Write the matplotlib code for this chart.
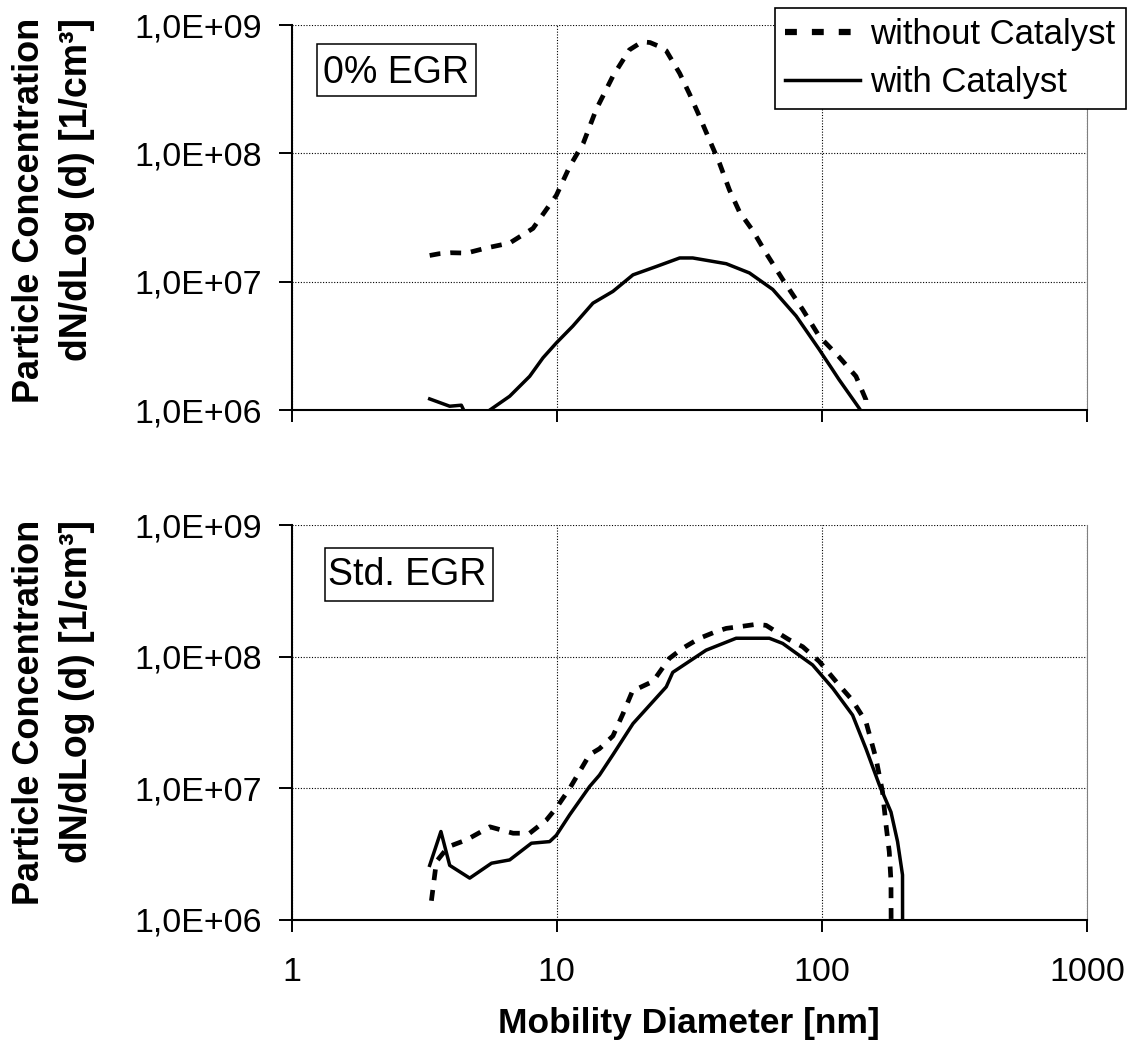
import matplotlib
matplotlib.use('Agg')
import matplotlib.pyplot as plt
from matplotlib.lines import Line2D
from matplotlib.patches import Rectangle

plt.rcParams['font.family'] = ['Liberation Sans', 'DejaVu Sans']

# ---------------- data ----------------
# Top panel: 0% EGR
top_without_x = [3.32, 3.6, 4.0, 4.57, 5.43, 6.65, 8.14, 9.97, 11.2, 12.6, 14.1, 16.3, 18.8,
                 21.0, 22.5, 24.4, 25.9, 29.1, 31.7, 34.6, 37.7, 41.1, 44.8, 48.9, 54.9,
                 61.6, 71.2, 84.7, 97.8, 116, 134.5, 146.7, 147.0]
top_without_y = [1.6e7, 1.65e7, 1.68e7, 1.67e7, 1.83e7, 2.0e7, 2.6e7, 4.7e7, 7.9e7, 1.2e8, 2.2e8,
                 4.0e8, 6.4e8, 7.4e8, 7.3e8, 6.8e8, 6.3e8, 4.2e8, 2.9e8, 1.93e8, 1.27e8, 8.4e7,
                 5.2e7, 3.5e7, 2.5e7, 1.67e7, 1.04e7, 6.06e6, 3.75e6, 2.6e6, 1.83e6, 1.2e6, 8.0e5]
top_with_x = [3.32, 3.95, 4.37, 4.5, 5.0, 5.6, 6.65, 7.91, 8.88, 9.97, 11.5, 13.7, 16.3, 19.4,
              23.7, 29.1, 32.6, 43.6, 53.3, 65.3, 80, 97.8, 116, 138, 142]
top_with_y = [1.22e6, 1.07e6, 1.09e6, 9.6e5, 8.5e5, 1.0e6, 1.28e6, 1.83e6, 2.55e6, 3.33e6,
              4.5e6, 6.8e6, 8.4e6, 1.13e7, 1.31e7, 1.53e7, 1.53e7, 1.38e7, 1.17e7, 8.7e6,
              5.4e6, 2.96e6, 1.73e6, 1.04e6, 9.5e5]

# Bottom panel: Std. EGR
bot_without_x = [3.37, 3.52, 3.9, 4.57, 5.6, 6.85, 7.91, 9.15, 9.97, 11.2, 13.3, 14.5, 16.3,
                 17.8, 19.4, 20.5, 23.1, 26.6, 29.9, 34.6, 39.9, 43.6, 50, 56.5, 61.6, 67.2,
                 75, 84.7, 97.8, 116, 130, 146.7, 160, 169.4, 174.6, 179.6, 182.3, 182.5]
bot_without_y = [1.4e6, 2.78e6, 3.6e6, 4.06e6, 5.1e6, 4.56e6, 4.56e6, 5.75e6, 7.1e6, 1.0e7,
                 1.8e7, 2.0e7, 2.5e7, 3.7e7, 5.6e7, 5.8e7, 6.5e7, 9.7e7, 1.16e8, 1.38e8,
                 1.55e8, 1.64e8, 1.7e8, 1.76e8, 1.73e8, 1.55e8, 1.35e8, 1.19e8, 9.2e7, 6.1e7,
                 4.7e7, 3.2e7, 1.69e7, 9.4e6, 5.27e6, 3.3e6, 1.96e6, 1.0e6]
bot_with_x = [3.32, 3.66, 3.95, 4.7, 5.68, 6.65, 8.03, 9.41, 9.97, 11.2, 13.3, 14.5, 16.3, 19.4,
              25.9, 27.4, 36.6, 47.5, 63.4, 71.2, 92.3, 110, 130.6, 146.7, 164.8, 182.3, 193,
              201.5, 201.6]
bot_with_y = [2.6e6, 4.7e6, 2.6e6, 2.08e6, 2.7e6, 2.86e6, 3.83e6, 3.94e6, 4.4e6, 6.3e6, 1.03e7,
              1.26e7, 1.8e7, 3.1e7, 5.9e7, 7.6e7, 1.12e8, 1.38e8, 1.38e8, 1.26e8, 8.65e7,
              5.75e7, 3.6e7, 2.0e7, 1.06e7, 6.6e6, 3.94e6, 2.2e6, 9.0e5]

y_ticks = [1e6, 1e7, 1e8, 1e9]
y_tick_labels = ['1,0E+06', '1,0E+07', '1,0E+08', '1,0E+09']
x_ticks = [1, 10, 100, 1000]
x_tick_labels = ['1', '10', '100', '1000']
series_labels = ['without Catalyst', 'with Catalyst']
panel_labels = ['0% EGR', 'Std. EGR']
y_label_1 = 'Particle Concentration'
y_label_2 = 'dN/dLog (d) [1/cm³]'
x_label = 'Mobility Diameter [nm]'

# ---------------- layout ----------------
W, H = 1130, 1044
fig = plt.figure(figsize=(W / 100, H / 100), dpi=100)


def fx(px):
    return px / W


def fy(py):
    return 1 - py / H


L, R = 291.5, 1087
ax1 = fig.add_axes([fx(L), fy(410), (R - L) / W, (410 - 25) / H])
ax2 = fig.add_axes([fx(L), fy(920), (R - L) / W, (920 - 525) / H])

TICK_FS = 24.5
for ax, (wx, wy, cx, cy), show_x in [
    (ax1, (top_without_x, top_without_y, top_with_x, top_with_y), False),
    (ax2, (bot_without_x, bot_without_y, bot_with_x, bot_with_y), True),
]:
    ax.set_xscale('log')
    ax.set_yscale('log')
    ax.plot(wx, wy, color='black', lw=3.4, dashes=(2.3, 2.1), solid_capstyle='butt',
            dash_capstyle='butt', zorder=3)
    ax.plot(cx, cy, color='black', lw=2.5, solid_joinstyle='round', zorder=4)
    ax.set_xlim(1, 1000)
    ax.set_ylim(1e6, 1e9)
    ax.set_yticks(y_ticks)
    ax.set_yticklabels(y_tick_labels)
    ax.set_xticks(x_ticks)
    if show_x:
        ax.set_xticklabels(x_tick_labels)
    else:
        ax.set_xticklabels([])
    ax.minorticks_off()
    ax.tick_params(axis='y', which='major', direction='out', length=9.4, width=1.4,
                   labelsize=TICK_FS, pad=12)
    ax.tick_params(axis='x', which='major', direction='out', length=8.6, width=1.4,
                   labelsize=TICK_FS, pad=18)
    ax.grid(True, which='major', color='black', lw=0.8, ls=(0, (1, 1.5)))
    for s in ['left', 'bottom']:
        ax.spines[s].set_linewidth(1.5)
        ax.spines[s].set_color('black')
    ax.spines['top'].set_visible(False)
    ax.spines['right'].set_color('#808080')
    ax.spines['right'].set_linewidth(0.8)
    ax.set_axisbelow(True)

# y labels
for top_px in (18, 520):
    fig.text(fx(12), fy(top_px), y_label_1, rotation=90, ha='left', va='top',
             fontsize=26, fontweight='bold')
    fig.text(fx(59), fy(top_px), y_label_2, rotation=90, ha='left', va='top',
             fontsize=27, fontweight='bold')

# x label
fig.text(fx(689), fy(1033), x_label, ha='center', va='baseline',
         fontsize=25.5, fontweight='bold')

# panel annotation boxes
for (x0, y0, x1, y1), (tx, tb), txt in [
    ((316.7, 44, 475.7, 96), (396.2, 82.7), panel_labels[0]),
    ((325, 548.3, 493.3, 600.7), (406.7, 585), panel_labels[1]),
]:
    fig.patches.append(Rectangle((fx(x0), fy(y1)), (x1 - x0) / W, (y1 - y0) / H,
                                 transform=fig.transFigure, facecolor='white',
                                 edgecolor='black', lw=1.1, zorder=5))
    fig.text(fx(tx), fy(tb), txt, ha='center', va='baseline', fontsize=27, zorder=6)

# legend
h_without = Line2D([], [], color='black', lw=4.5, dashes=(1.9, 2.4), dash_capstyle='butt')
h_with = Line2D([], [], color='black', lw=2.5)
leg = fig.legend([h_without, h_with], series_labels, loc='upper left',
                 bbox_to_anchor=(fx(775), fy(8)), borderaxespad=0, frameon=True,
                 fancybox=False, edgecolor='black', framealpha=1, fontsize=25,
                 handlelength=2.15, handletextpad=0.3, borderpad=0.3, labelspacing=0.42)
leg.get_frame().set_linewidth(1.2)

fig.savefig('out.png', dpi=100)
